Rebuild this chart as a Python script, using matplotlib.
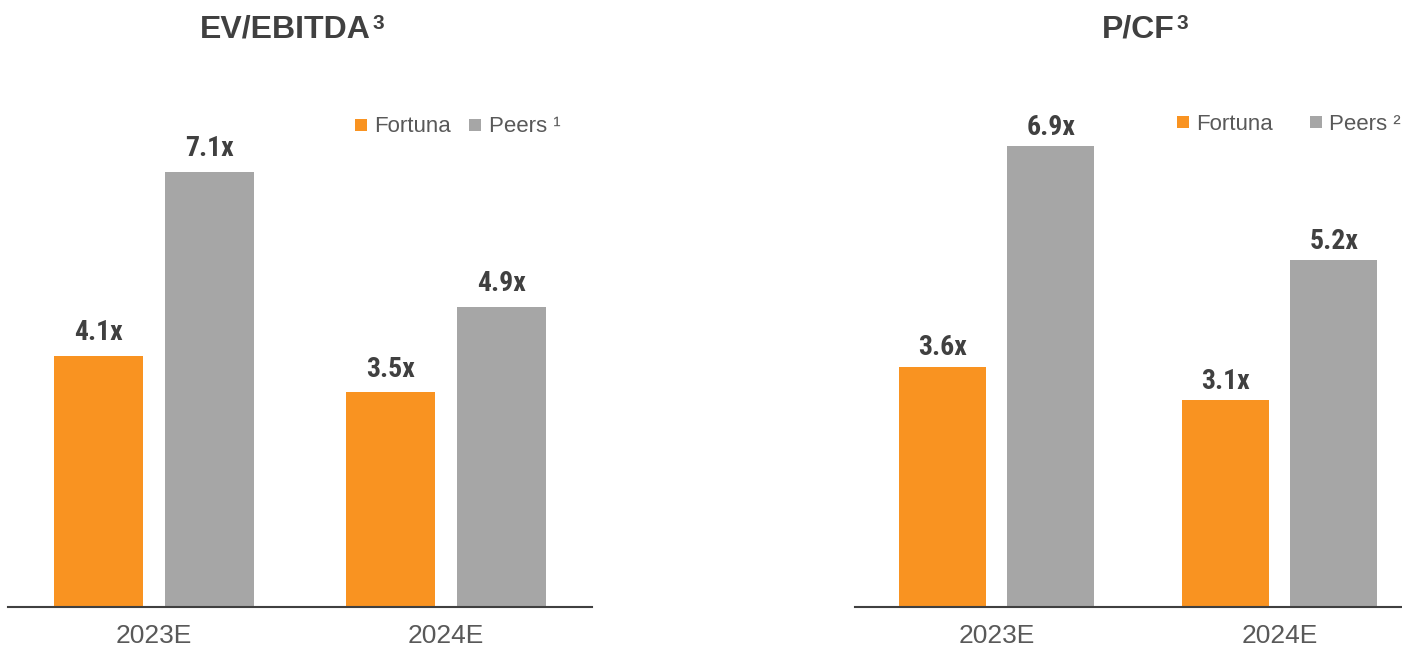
import numpy as np
import matplotlib.pyplot as plt
from matplotlib.lines import Line2D
from matplotlib import font_manager

# data
years = ['2023E', '2024E']
ev_fortuna = [4.1, 3.5]
ev_peers = [7.1, 4.9]
pcf_fortuna = [3.6, 3.1]
pcf_peers = [6.9, 5.2]

ORANGE = '#F99321'
GREY = '#A6A6A6'
DARK = '#404040'
TICK = '#595959'

W, H = 1402, 647
plt.rcParams['font.family'] = ['Liberation Sans', 'DejaVu Sans']


def find_narrow():
    # look for a condensed face for the value labels
    fonts = font_manager.fontManager.ttflist
    for key in ['Liberation Sans Narrow', 'Roboto Condensed',
                'Open Sans Condensed', 'DejaVu Sans Condensed']:
        for f in fonts:
            if key in f.name and f.weight in ('bold', 700):
                return font_manager.FontProperties(fname=f.fname)
    for f in fonts:
        cond = ('ondensed' in str(f.stretch) or 'Narrow' in f.name
                or 'Condensed' in f.name)
        if cond and f.weight in ('bold', 700):
            return font_manager.FontProperties(fname=f.fname)
    return None


narrow = find_narrow()

fig = plt.figure(figsize=(W / 100, H / 100), dpi=100)


def make_axes(x0, x1, base, top, px_unit, x_right):
    ax = fig.add_axes([x0 / W, (H - base) / H, (x1 - x0) / W,
                       (base - top) / H])
    ax.set_ylim(0, (base - top) / px_unit)
    ax.set_xlim(-0.5, x_right)
    for s in ['left', 'right', 'top']:
        ax.spines[s].set_visible(False)
    ax.spines['bottom'].set_color(DARK)
    ax.spines['bottom'].set_linewidth(1.5)
    ax.set_yticks([])
    ax.set_xticks(np.arange(len(years)))
    ax.set_xticklabels(years, fontsize=19, color=TICK)
    ax.tick_params(axis='x', length=0, pad=12)
    ax.patch.set_alpha(0)
    return ax


def draw_bars(ax, fortuna, peers, width, off, gap):
    x = np.arange(len(years))
    b1 = ax.bar(x - off, fortuna, width, color=ORANGE)
    b2 = ax.bar(x + off, peers, width, color=GREY)
    for bars, vals in ((b1, fortuna), (b2, peers)):
        for b, v in zip(bars, vals):
            t = ax.annotate(f'{v:.1f}x', (b.get_x() + b.get_width() / 2, v),
                            xytext=(0, gap), textcoords='offset points',
                            ha='center', va='baseline', color=DARK)
            if narrow is not None:
                t.set_fontproperties(narrow)
                t.set_fontsize(20)
            else:
                t.set_fontsize(19)
                t.set_fontweight('bold')


def add_legend(ax, x_px, y_px, peers_label, colspace):
    handles = [
        Line2D([], [], ls='none', marker='s', ms=9, color=ORANGE,
               markeredgewidth=0),
        Line2D([], [], ls='none', marker='s', ms=9, color=GREY,
               markeredgewidth=0),
    ]
    leg = ax.legend(handles, ['Fortuna', peers_label], ncol=2,
                    frameon=False, fontsize=16, labelcolor=TICK,
                    handlelength=0.6, handletextpad=0.3,
                    columnspacing=colspace, borderpad=0, borderaxespad=0,
                    loc='center left',
                    bbox_to_anchor=(x_px / W, (H - y_px) / H),
                    bbox_transform=fig.transFigure)
    return leg


def add_title(ax, x_px, text):
    t = fig.text(x_px / W, (H - 38) / H, text, ha='center', va='baseline',
                 fontsize=23, fontweight='bold', color=DARK)
    ax.annotate('3', xy=(1, 1), xycoords=t, xytext=(1.5, 1),
                textcoords='offset points', ha='left', va='top',
                fontsize=15, fontweight='bold', color=DARK,
                annotation_clip=False)


ax1 = make_axes(8, 592, 607, 60, 61.3, 1.5)
draw_bars(ax1, ev_fortuna, ev_peers, 0.305, 0.19, 11)
add_legend(ax1, 354, 127, 'Peers ¹', 0.8)

ax2 = make_axes(855, 1402, 607, 60, 66.8, -0.5 + 547 / 283)
draw_bars(ax2, pcf_fortuna, pcf_peers, 0.307, 0.192, 8)
add_legend(ax2, 1176, 124, 'Peers ²', 1.65)

add_title(ax1, 285, 'EV/EBITDA')
add_title(ax2, 1138, 'P/CF')

fig.savefig('out.png', dpi=100)
